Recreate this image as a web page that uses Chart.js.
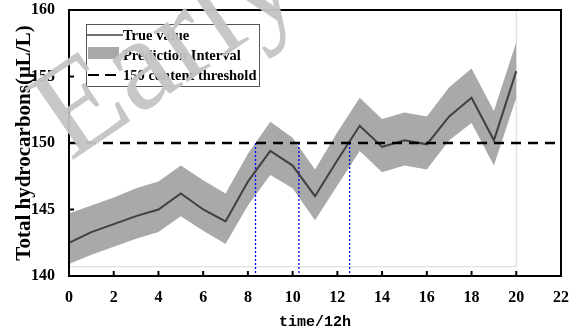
<!DOCTYPE html>
<html>
<head>
<meta charset="utf-8">
<script src="https://cdn.jsdelivr.net/npm/chart.js@4/dist/chart.umd.min.js"></script>
<style>
  html, body { margin: 0; padding: 0; background: #fff; }
  #wrap { width: 570px; height: 331px; }
</style>
</head>
<body>
<div id="wrap"><canvas id="myChart"></canvas></div>
<script>
// time steps (x 12h)
const times = [0, 1, 2, 3, 4, 5, 6, 7, 8, 9, 10, 11, 12, 13, 14, 15, 16, 17, 18, 19, 20];
// true value
const trueValues = [142.5, 143.3, 143.9, 144.5, 145.0, 146.2, 145.0, 144.1, 147.1, 149.4, 148.3, 146.0, 148.7, 151.3, 149.7, 150.2, 149.9, 152.0, 153.4, 150.2, 155.4];
// prediction interval
const upperValues = [144.7, 145.3, 145.9, 146.6, 147.1, 148.3, 147.2, 146.2, 149.2, 151.6, 150.4, 148.0, 150.8, 153.4, 151.8, 152.3, 152.0, 154.2, 155.6, 152.4, 157.6];
const lowerValues = [140.9, 141.6, 142.2, 142.8, 143.3, 144.5, 143.4, 142.4, 145.3, 147.6, 146.6, 144.2, 146.8, 149.4, 147.8, 148.3, 148.0, 150.2, 151.5, 148.3, 153.4];
// threshold and crossing marks
const threshold = 150;
const crossTimes = [8.34, 10.28, 12.55];
const xTicks = [0, 2, 4, 6, 8, 10, 12, 14, 16, 18, 20, 22];
const yTicks = [140, 145, 150, 155, 160];
const legendLabels = ['True value', 'Prediction Interval', '150 content threshold'];

const SERIF = '"Liberation Serif", "Times New Roman", serif';
const toXY = (vals) => vals.map((v, i) => ({ x: times[i], y: v }));

const crossSets = crossTimes.map(t => ({
  data: [{ x: t, y: threshold }, { x: t, y: 140 }],
  borderColor: '#0000ff',
  borderWidth: 1.3,
  borderDash: [2, 2],
  pointRadius: 0,
  fill: false,
  order: 3
}));

// frame: inward ticks, top/right border
const framePlugin = {
  id: 'frame',
  afterDatasetsDraw(chart) {
    const { ctx, chartArea: a, scales } = chart;
    ctx.save();
    ctx.strokeStyle = '#000';
    ctx.lineWidth = 2;
    ctx.strokeRect(a.left, a.top, a.right - a.left, a.bottom - a.top);
    xTicks.forEach(t => {
      const px = scales.x.getPixelForValue(t);
      ctx.beginPath(); ctx.moveTo(px, a.bottom); ctx.lineTo(px, a.bottom - 5); ctx.stroke();
    });
    yTicks.forEach(t => {
      const py = scales.y.getPixelForValue(t);
      ctx.beginPath(); ctx.moveTo(a.left, py); ctx.lineTo(a.left + 5, py); ctx.stroke();
    });
    ctx.restore();
  }
};

// legend box in the upper left of the plot
const legendPlugin = {
  id: 'boxLegend',
  afterDatasetsDraw(chart) {
    const ctx = chart.ctx;
    const x0 = 86, y0 = 24, w = 173, h = 62;
    ctx.save();
    ctx.fillStyle = '#fff';
    ctx.fillRect(x0, y0, w, h);
    ctx.strokeStyle = '#555';
    ctx.lineWidth = 1;
    ctx.strokeRect(x0 + 0.5, y0 + 0.5, w, h);
    ctx.strokeStyle = '#404040';
    ctx.lineWidth = 1.5;
    ctx.beginPath(); ctx.moveTo(x0 + 1, 35); ctx.lineTo(x0 + 37, 35); ctx.stroke();
    ctx.fillStyle = '#a9a9a9';
    ctx.fillRect(x0 + 2, 47, 31, 12);
    ctx.strokeStyle = '#000';
    ctx.lineWidth = 2;
    ctx.setLineDash([11, 6]);
    ctx.beginPath(); ctx.moveTo(x0 + 2, 75); ctx.lineTo(x0 + 34, 75); ctx.stroke();
    ctx.setLineDash([]);
    ctx.fillStyle = '#000';
    ctx.font = 'bold 14.5px ' + SERIF;
    ctx.textBaseline = 'middle';
    ctx.fillText(legendLabels[0], x0 + 37, 36);
    ctx.fillText(legendLabels[1], x0 + 37, 56);
    ctx.fillText(legendLabels[2], x0 + 37, 76);
    ctx.restore();
  }
};

// faint watermark across the top left
const watermarkPlugin = {
  id: 'watermark',
  afterDraw(chart) {
    const ctx = chart.ctx;
    ctx.save();
    ctx.translate(70, 162);
    ctx.rotate(-0.6);
    ctx.fillStyle = 'rgba(196,196,196,0.95)';
    ctx.font = '132px ' + SERIF;
    ctx.fillText('Early', 0, 0);
    ctx.restore();
  }
};

new Chart('myChart', {
  type: 'line',
  data: {
    datasets: [
      {
        label: 'threshold',
        data: [{ x: 0, y: threshold }, { x: 22, y: threshold }],
        borderColor: '#000',
        borderWidth: 2.5,
        borderDash: [10, 7],
        pointRadius: 0,
        fill: false,
        order: 1
      },
      {
        label: 'True value',
        data: toXY(trueValues),
        borderColor: '#404040',
        borderWidth: 2,
        pointRadius: 0,
        fill: false,
        tension: 0,
        order: 2
      },
      ...crossSets,
      {
        label: 'lower',
        data: toXY(lowerValues),
        borderWidth: 0,
        borderColor: 'rgba(0,0,0,0)',
        pointRadius: 0,
        fill: false,
        order: 5
      },
      {
        label: 'Prediction Interval',
        data: toXY(upperValues),
        borderWidth: 0,
        borderColor: 'rgba(0,0,0,0)',
        backgroundColor: '#a9a9a9',
        pointRadius: 0,
        fill: '-1',
        order: 5
      },
      {
        label: 'inner box',
        data: [{ x: 0, y: 140.7 }, { x: 20, y: 140.7 }, { x: 20, y: 160 }],
        borderColor: '#d9d9d9',
        borderWidth: 1,
        pointRadius: 0,
        fill: false,
        order: 6
      }
    ]
  },
  options: {
    responsive: true,
    maintainAspectRatio: false,
    animation: false,
    layout: { padding: { left: 0, right: 9, top: 10, bottom: 0 } },
    plugins: { legend: { display: false }, tooltip: { enabled: false } },
    scales: {
      x: {
        type: 'linear',
        min: 0,
        max: 22,
        afterBuildTicks: (s) => { s.ticks = xTicks.map(v => ({ value: v })); },
        ticks: { color: '#000', font: { family: SERIF, weight: 'bold', size: 16 }, padding: 4, maxRotation: 0 },
        grid: { display: false },
        border: { display: true, color: '#000', width: 2 },
        title: { display: true, text: 'time/12h', color: '#000', font: { family: '"Liberation Mono", monospace', weight: 'bold', size: 15 }, padding: { top: 3, bottom: 0 } },
        afterFit: (s) => { s.height = 55; s.paddingLeft = 0; s.paddingRight = 0; }
      },
      y: {
        min: 140,
        max: 160,
        afterBuildTicks: (s) => { s.ticks = yTicks.map(v => ({ value: v })); },
        ticks: { color: '#000', font: { family: SERIF, weight: 'bold', size: 16 }, padding: 6 },
        grid: { display: false },
        border: { display: true, color: '#000', width: 2 },
        title: { display: true, text: 'Total hydrocarbons(μL/L)', color: '#000', font: { family: SERIF, weight: 'bold', size: 21 }, padding: { top: 12, bottom: 0 } },
        afterFit: (s) => { s.width = 69; s.paddingTop = 0; s.paddingBottom = 0; }
      }
    }
  },
  plugins: [framePlugin, legendPlugin, watermarkPlugin]
});
</script>
</body>
</html>
